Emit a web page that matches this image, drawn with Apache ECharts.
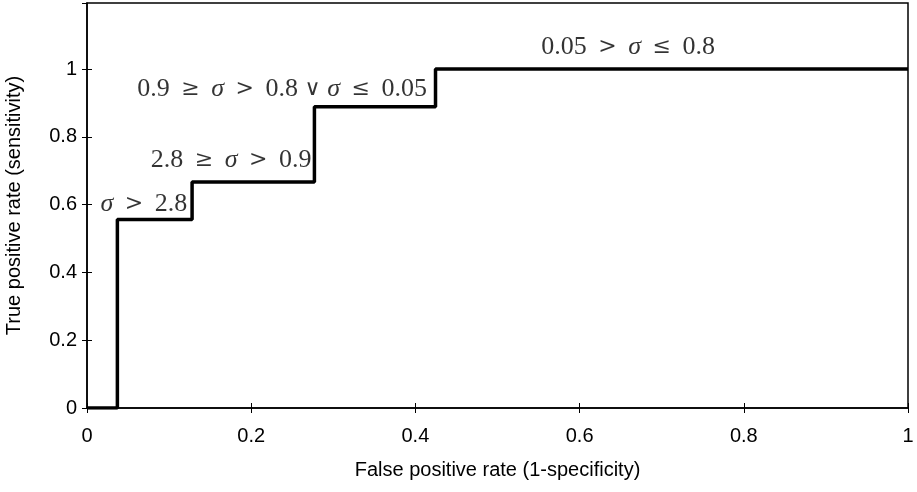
<!DOCTYPE html>
<html>
<head>
<meta charset="utf-8">
<script src="https://cdn.jsdelivr.net/npm/echarts@6/dist/echarts.min.js"></script>
<style>
  html, body { margin: 0; padding: 0; background: #fff; }
  #chart { width: 917px; height: 492px; }
</style>
</head>
<body>
<div id="chart"></div>
<script>
// ROC curve corners (false positive rate, true positive rate)
const fpr = [0, 0.037, 0.037, 0.128, 0.128, 0.277, 0.277, 0.4245, 0.4245, 1];
const tpr = [0, 0, 0.556, 0.556, 0.667, 0.667, 0.889, 0.889, 1, 1];

// threshold annotations
const s = '{g|\u2002}';
const noteX = [0.122, 0.2735, 0.414, 0.659];
const noteY = [0.60, 0.73, 0.94, 1.065];
const noteText = [
  '{i|σ}' + s + '{r|>}' + s + '2.8',
  '2.8' + s + '{r|≥}' + s + '{i|σ}' + s + '{r|>}' + s + '0.9',
  '0.9' + s + '{r|≥}' + s + '{i|σ}' + s + '{r|>}' + s + '0.8 {r|∨} {i|σ}' + s + '{r|≤}' + s + '0.05',
  '0.05' + s + '{r|>}' + s + '{i|σ}' + s + '{r|≤}' + s + '0.8'
];
const noteAlign = ['right', 'right', 'right', 'center'];

const chart = echarts.init(document.getElementById('chart'));

const sans = 'Liberation Sans';
const serif = 'Liberation Serif';

const tickStyle = { show: true, inside: true, length: 5, lineStyle: { color: '#000', width: 1 } };

const option = {
  animation: false,
  grid: {
    left: 87, right: 9, top: 3, bottom: 84,
    outerBoundsMode: 'none', containLabel: false,
    show: true, borderColor: '#000', borderWidth: 1.5
  },
  xAxis: [
    {
      type: 'value', min: 0, max: 1, interval: 0.2,
      name: 'False positive rate (1-specificity)',
      nameLocation: 'middle', nameGap: 52,
      nameTextStyle: { fontFamily: sans, fontSize: 20, color: '#000' },
      axisLine: { show: true, lineStyle: { color: '#000', width: 1.5 } },
      axisTick: tickStyle,
      splitLine: { show: false },
      axisLabel: {
        fontFamily: sans, fontSize: 20, color: '#000', margin: 18,
        formatter: v => String(v)
      }
    },
    {
      type: 'value', min: 0, max: 1, interval: 0.2, position: 'top',
      axisLine: { show: false }, axisTick: tickStyle,
      axisLabel: { show: false }, splitLine: { show: false }
    }
  ],
  yAxis: [
    {
      type: 'value', min: 0, max: 1.195, interval: 0.2,
      name: 'True positive rate (sensitivity)',
      nameLocation: 'middle', nameGap: 63,
      nameTextStyle: { fontFamily: sans, fontSize: 20, color: '#000' },
      axisLine: { show: true, lineStyle: { color: '#000', width: 1.5 } },
      axisTick: tickStyle,
      splitLine: { show: false },
      axisLabel: {
        fontFamily: sans, fontSize: 20, color: '#000', margin: 10,
        showMaxLabel: false,
        formatter: v => (v > 1.001 ? '' : String(Math.round(v * 10) / 10))
      }
    },
    {
      type: 'value', min: 0, max: 1.195, interval: 0.2, position: 'right',
      axisLine: { show: false }, axisTick: tickStyle,
      axisLabel: { show: false }, splitLine: { show: false }
    }
  ],
  series: [
    {
      type: 'line',
      data: fpr.map((x, i) => [x, tpr[i]]),
      symbol: 'none',
      lineStyle: { color: '#000', width: 3.5 },
      z: 3
    },
    {
      type: 'scatter',
      symbolSize: 0,
      silent: true,
      data: noteX.map((x, i) => ({
        value: [x, noteY[i]],
        label: {
          show: true, position: 'inside', formatter: noteText[i],
          align: noteAlign[i], verticalAlign: 'middle',
          fontFamily: serif, fontSize: 26, color: '#000',
          rich: {
            i: { fontFamily: serif, fontStyle: 'italic', fontSize: 26, color: '#000' },
            r: { fontFamily: 'DejaVu Serif', fontSize: 22, color: '#000' },
            g: { fontFamily: serif, fontSize: 23 }
          }
        }
      })),
      z: 4
    }
  ]
};

chart.setOption(option);
</script>
</body>
</html>
